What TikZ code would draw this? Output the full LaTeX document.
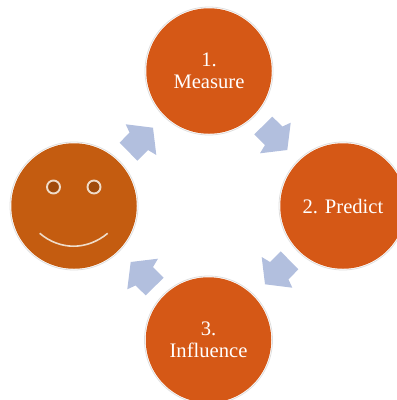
\documentclass[tikz,border=0pt]{standalone}
\usepackage{fontspec}
\setmainfont{Liberation Serif}
\definecolor{stepfill}{HTML}{D55816}
\definecolor{faceorange}{HTML}{C45C10}
\definecolor{arrowblue}{HTML}{B2BFDE}
\definecolor{eyedark}{HTML}{A04A0A}
\definecolor{facelight}{HTML}{EFDCC9}
\definecolor{ringgrey}{HTML}{DEDEDE}
\tikzset{
  x=1pt,y=-1pt,
  disc/.style={circle,minimum size=125.5pt,inner sep=0pt,fill=#1,align=center,text=white,
    font=\fontsize{20.6}{22}\selectfont},
  ringo/.style={draw=ringgrey,line width=0.8pt},
  flowarrow/.pic={\fill[arrowblue] (63.3,-89.3) -- (73.5,-79.5) -- (81.7,-83.3) -- (78.3,-56)
    -- (51,-52.7) -- (56,-61) -- (45.3,-71.7) -- cycle;},
  eye/.style={circle,minimum size=13pt,inner sep=0pt,fill=eyedark,draw=facelight,line width=1.9pt},
}
\begin{document}
\begin{tikzpicture}
\useasboundingbox (0,0) rectangle (397,400);
\clip (0,0) rectangle (397,400);
\coordinate (hub) at (209,206);
\draw[ringo] (209,71) circle[radius=64];
\draw[ringo] (343,206) circle[radius=64];
\draw[ringo] (208.5,340) circle[radius=64];
\draw[ringo] (74,206) circle[radius=64];
\node[disc=stepfill] (measure) at (209,71) {1.\\Measure};
\node[disc=stepfill] (predict) at (343,206) {2. Predict};
\node[disc=stepfill] (influence) at (208.5,340) {3.\\Influence};
\node[disc=faceorange] (face) at (74,206) {};
\node[eye] (lefteye) at (53.5,187) {};
\node[eye] (righteye) at (94,187) {};
\coordinate (smilea) at (39.7,233.3);
\coordinate (smileb) at (107.7,233.3);
\draw[facelight,line width=1.6pt] (smilea) .. controls (60,250.5) and (87,250.5) .. (smileb);
\pic (a1) at (hub) {flowarrow};
\pic[rotate=-90] (a2) at (hub) {flowarrow};
\pic[rotate=180] (a3) at (hub) {flowarrow};
\pic[rotate=90] (a4) at (hub) {flowarrow};
\end{tikzpicture}
\end{document}
